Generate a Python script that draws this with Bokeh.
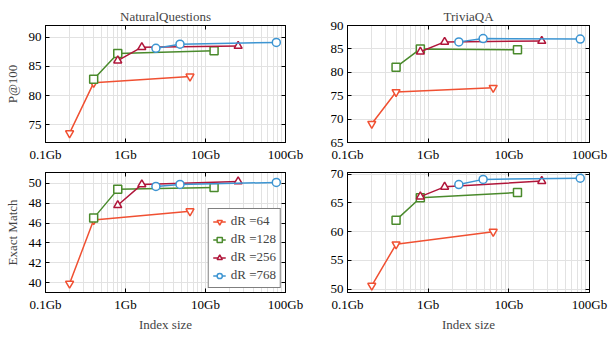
from bokeh.plotting import figure
from bokeh.layouts import gridplot
from bokeh.models import (FixedTicker, Legend, LegendItem, ColumnDataSource, Range1d,
                          LinearAxis, LogAxis)
from bokeh.embed import file_html
from bokeh.resources import INLINE

# ---------------- data ----------------
dims = ["64", "128", "256", "768"]
index_size = {
    "64": [0.2, 0.4, 6.4],
    "128": [0.4, 0.8, 12.8],
    "256": [0.8, 1.6, 25.6],
    "768": [2.4, 4.8, 76.8],
}
nq_p100 = {
    "64": [73.6, 82.2, 83.3],
    "128": [82.8, 87.2, 87.7],
    "256": [86.0, 88.3, 88.5],
    "768": [88.1, 88.8, 89.1],
}
tqa_p100 = {
    "64": [69.0, 75.8, 76.7],
    "128": [81.1, 85.0, 84.8],
    "256": [84.4, 86.5, 86.7],
    "768": [86.5, 87.2, 87.1],
}
nq_em = {
    "64": [39.9, 46.3, 47.2],
    "128": [46.5, 49.4, 49.6],
    "256": [47.8, 49.9, 50.2],
    "768": [49.7, 49.9, 50.1],
}
tqa_em = {
    "64": [50.6, 57.8, 60.0],
    "128": [62.0, 65.9, 66.8],
    "256": [66.1, 67.8, 68.8],
    "768": [68.2, 69.1, 69.3],
}
x_tick_values = [0.1, 1, 10, 100]
x_tick_labels = ["0.1Gb", "1Gb", "10Gb", "100Gb"]
x_minor_ticks = [m * 10.0 ** e for e in (-1, 0, 1) for m in range(2, 10)]
legend_labels = ["dR =64", "dR =128", "dR =256", "dR =768"]

colors = {"64": "#f05032", "128": "#4a8a2c", "256": "#b0163a", "768": "#3d95d2"}
markers = {"64": "inverted_triangle", "128": "square", "256": "triangle", "768": "circle"}

FONT = "Liberation Serif"
FS = "13px"


def style_axis(ax, show_labels=True):
    ax.major_label_text_font = FONT
    ax.major_label_text_font_size = FS if show_labels else "1px"
    ax.major_label_text_color = "black" if show_labels else None
    ax.axis_label_text_font = FONT
    ax.axis_label_text_font_size = FS
    ax.axis_label_text_font_style = "normal"
    ax.major_tick_in = 4
    ax.major_tick_out = 0
    ax.minor_tick_in = 0
    ax.minor_tick_out = 0
    ax.axis_line_color = "black"
    ax.major_tick_line_color = "black"
    ax.major_label_standoff = 4 if show_labels else 0


def make(title, ylabel, data, yticks, yrange, width, height, bl, br, bt, bb, xlabel=None, legend=False):
    p = figure(width=width, height=height, x_axis_type="log",
               x_range=Range1d(0.1, 100), y_range=Range1d(*yrange),
               title=title, output_backend="svg", toolbar_location=None,
               min_border_left=bl, min_border_right=br, min_border_top=bt, min_border_bottom=bb)
    p.background_fill_color = "white"
    p.border_fill_color = "white"
    p.outline_line_color = "black"
    p.outline_line_width = 1
    if title:
        p.title.text_font = FONT
        p.title.text_font_size = FS
        p.title.text_font_style = "normal"
        p.title.align = "center"
        p.title.standoff = 4
    xt = FixedTicker(ticks=x_tick_values, minor_ticks=x_minor_ticks)
    yt = FixedTicker(ticks=yticks)
    bottom = p.xaxis[0]
    left = p.yaxis[0]
    bottom.ticker = xt
    bottom.major_label_overrides = {v: l for v, l in zip(x_tick_values, x_tick_labels)}
    left.ticker = yt
    style_axis(bottom)
    style_axis(left)
    if ylabel:
        left.axis_label = ylabel
        left.axis_label_standoff = 6
    if xlabel:
        bottom.axis_label = xlabel
        bottom.axis_label_standoff = 2
    top = LogAxis(ticker=xt)
    right = LinearAxis(ticker=yt)
    style_axis(top, False)
    style_axis(right, False)
    p.add_layout(top, "above")
    p.add_layout(right, "right")
    p.xgrid.grid_line_color = "#e2e2e2"
    p.xgrid.minor_grid_line_color = "#e2e2e2"
    p.ygrid.grid_line_color = "#e2e2e2"

    items = []
    for d, lab in zip(dims, legend_labels):
        src = ColumnDataSource(dict(x=index_size[d], y=data[d]))
        ln = p.line("x", "y", source=src, line_color=colors[d], line_width=1.5)
        sc = p.scatter("x", "y", source=src, marker=markers[d], size=8,
                       line_color=colors[d], fill_color="white", line_width=1.5)
        items.append(LegendItem(label=lab, renderers=[ln, sc]))
    if legend:
        lg = Legend(items=items, location="bottom_right")
        lg.label_text_font = FONT
        lg.label_text_font_size = FS
        lg.label_height = 13
        lg.glyph_height = 13
        lg.glyph_width = 13
        lg.label_standoff = 5
        lg.spacing = 2
        lg.padding = 4
        lg.margin = 4
        lg.border_line_color = "black"
        lg.border_line_width = 1
        lg.background_fill_alpha = 1
        p.add_layout(lg)
    return p


p1 = make("NaturalQuestions", "P@100", nq_p100, [75, 80, 85, 90], (72, 92),
          308, 164, 45, 23, 25, 20)
p2 = make("TriviaQA", None, tqa_p100, [65, 70, 75, 80, 85, 90], (65, 90),
          306, 164, 39, 25, 25, 20)
p3 = make(None, "Exact Match", nq_em, [40, 42, 44, 46, 48, 50], (39, 51.1),
          308, 172, 45, 23, 8, 44, xlabel="Index size", legend=True)
p4 = make(None, None, tqa_em, [50, 55, 60, 65, 70], (49.4, 70.3),
          306, 172, 39, 25, 8, 44, xlabel="Index size")

grid = gridplot([[p1, p2], [p3, p4]], toolbar_location=None)
open("out.html", "w").write(file_html(grid, INLINE))
